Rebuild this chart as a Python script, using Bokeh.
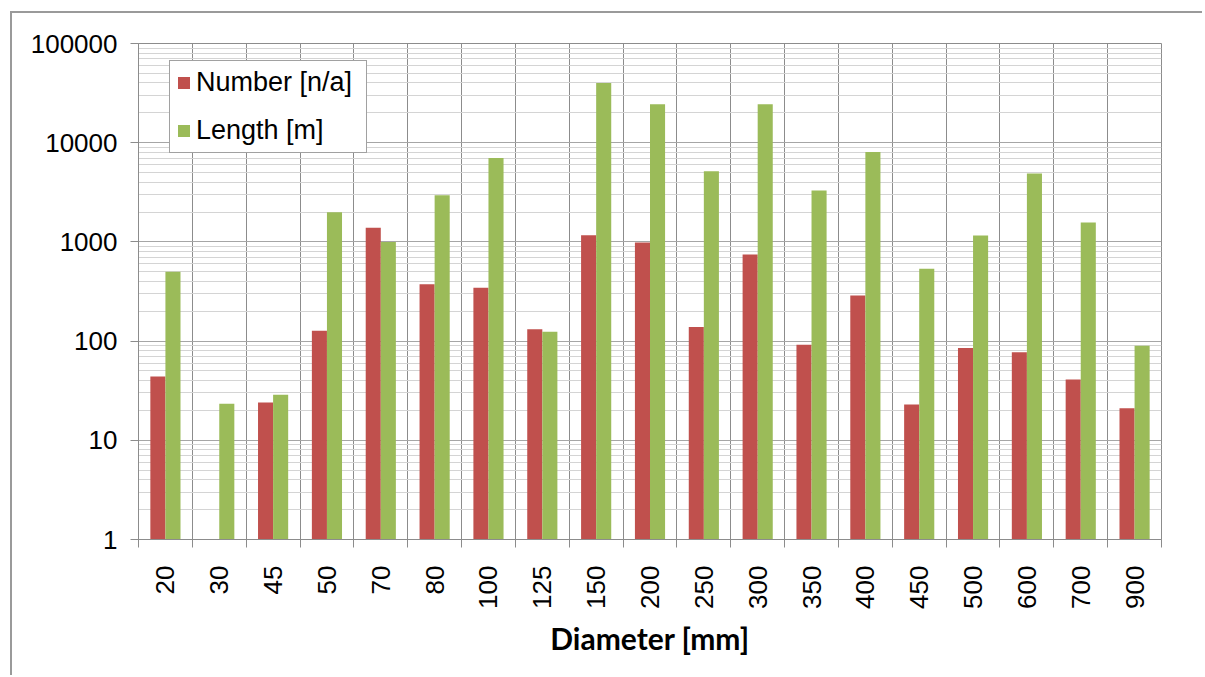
import math
from bokeh.plotting import figure
from bokeh.models import (ColumnDataSource, FixedTicker, NumeralTickFormatter, Legend,
                          LegendItem, Range1d)
from bokeh.embed import file_html
from bokeh.resources import INLINE

# ---- data ----
diameters = ["20", "30", "45", "50", "70", "80", "100", "125", "150", "200",
             "250", "300", "350", "400", "450", "500", "600", "700", "900"]
number_na = [44, None, 24, 127, 1390, 375, 344, 132, 1167, 986,
             139, 747, 92, 288, 23, 85, 77, 41, 21]
length_m = [500, 23.4, 28.8, 1990, 1000, 2950, 7000, 124, 39900, 24400,
            5150, 24400, 3300, 8050, 535, 1160, 4890, 1570, 90]

y_major = [1, 10, 100, 1000, 10000, 100000]

RED = "#C0504D"
GREEN = "#9BBB59"
GRID = "#8c8c8c"

n = len(diameters)
centers = [i + 1 for i in range(n)]
bounds = [i + 0.5 for i in range(n + 1)]
bw = 0.28

src = ColumnDataSource(dict(
    xr=[c - bw / 2 for c in centers],
    xg=[c + bw / 2 for c in centers],
    num=[float("nan") if v is None else v for v in number_na],
    length=length_m,
))

p = figure(width=1192, height=664, output_backend="svg", toolbar_location=None,
           y_axis_type="log", x_range=Range1d(0.5, n + 0.5), y_range=Range1d(1, 100000),
           min_border_left=126, min_border_right=43, min_border_top=30, min_border_bottom=138)
p.styles = {"margin-left": "10px", "margin-top": "11px",
            "border-left": "2px solid #9a9a9a", "border-top": "2px solid #9a9a9a"}
p.background_fill_color = "white"
p.border_fill_color = "white"
p.outline_line_color = GRID
p.outline_line_width = 1

r1 = p.vbar(x="xr", width=bw, top="num", bottom=1, source=src, fill_color=RED, line_color=None)
r2 = p.vbar(x="xg", width=bw, top="length", bottom=1, source=src, fill_color=GREEN, line_color=None)

# x axis
xt = FixedTicker(ticks=centers, minor_ticks=bounds)
xa = p.xaxis[0]
xa.ticker = xt
xa.major_label_overrides = {c: d for c, d in zip(centers, diameters)}
xa.major_label_orientation = math.pi / 2
xa.major_tick_line_color = None
xa.major_tick_out = 0
xa.major_tick_in = 0
xa.minor_tick_line_color = GRID
xa.minor_tick_out = 8
xa.minor_tick_in = 0
xa.axis_line_color = GRID
xa.major_label_standoff = 18
xa.major_label_text_font = "Liberation Sans"
xa.major_label_text_font_size = "26px"
xa.major_label_text_color = "black"
xa.axis_label = "Diameter [mm]"
xa.axis_label_text_font = "Lato"
xa.axis_label_text_font_style = "bold"
xa.axis_label_text_font_size = "30px"
xa.axis_label_text_color = "black"
xa.axis_label_standoff = 8

# y axis
minors = [k * 10 ** d for d in range(5) for k in range(2, 10)]
yt = FixedTicker(ticks=y_major, minor_ticks=minors)
ya = p.yaxis[0]
ya.ticker = yt
ya.formatter = NumeralTickFormatter(format="0")
ya.major_tick_out = 8
ya.major_tick_in = 0
ya.major_tick_line_color = GRID
ya.minor_tick_line_color = None
ya.axis_line_color = GRID
ya.major_label_standoff = 13
ya.major_label_text_font = "Liberation Sans"
ya.major_label_text_font_size = "26px"
ya.major_label_text_color = "black"

# grids
p.xgrid.ticker = FixedTicker(ticks=bounds)
p.xgrid.grid_line_color = GRID
p.ygrid.ticker = yt
p.ygrid.grid_line_color = "#a6a6a6"
p.ygrid.minor_grid_line_color = "#d4d4d4"

# legend
legend = Legend(items=[LegendItem(label="Number [n/a]", renderers=[r1]),
                       LegendItem(label="Length [m]", renderers=[r2])],
                location=(31, 386))
legend.border_line_color = "#444444"
legend.border_line_width = 1
legend.background_fill_color = "white"
legend.background_fill_alpha = 1
legend.label_text_font = "Liberation Sans"
legend.label_text_font_size = "27px"
legend.label_text_color = "black"
legend.glyph_width = 15
legend.glyph_height = 15
legend.label_standoff = 5
legend.label_width = 164
legend.padding = 6
legend.spacing = 17
legend.margin = 0
p.add_layout(legend, "center")

open("out.html", "w").write(file_html(p, INLINE))
